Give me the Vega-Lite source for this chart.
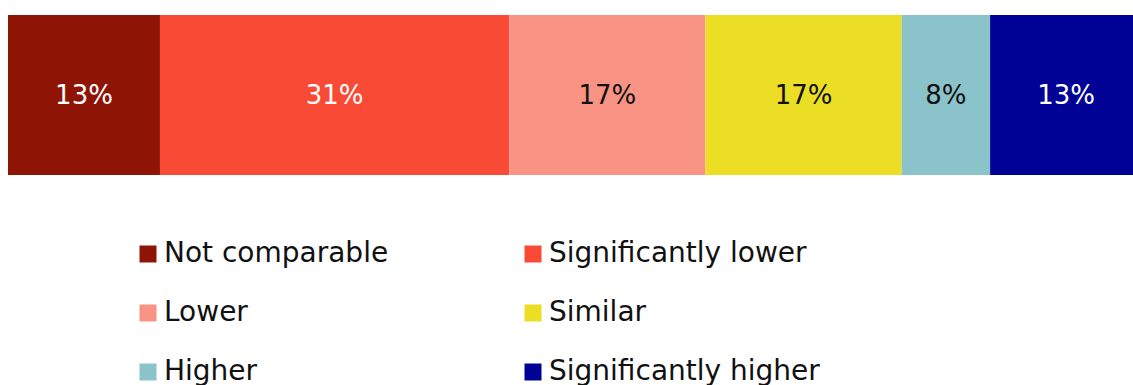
{
  "$schema": "https://vega.github.io/schema/vega-lite/v6.json",
  "width": 1125,
  "height": 160,
  "autosize": {"type": "none"},
  "padding": {"left": 8, "top": 15, "right": 0, "bottom": 210},
  "config": {
    "view": {"stroke": null},
    "font": "DejaVu Sans",
    "legend": {
      "orient": "none",
      "direction": "horizontal",
      "legendX": 126,
      "legendY": 225,
      "columns": 2,
      "columnPadding": 130,
      "rowPadding": 31,
      "symbolType": "square",
      "symbolSize": 289,
      "symbolStrokeWidth": 0,
      "symbolOpacity": 1,
      "labelFontSize": 28,
      "labelColor": "#111111",
      "labelOffset": 2,
      "labelLimit": 400,
      "padding": 0,
      "title": null
    }
  },
  "data": {
    "values": [
      {"category": "Not comparable", "share": 0.134, "rank": 1},
      {"category": "Significantly lower", "share": 0.308, "rank": 2},
      {"category": "Lower", "share": 0.173, "rank": 3},
      {"category": "Similar", "share": 0.173, "rank": 4},
      {"category": "Higher", "share": 0.078, "rank": 5},
      {"category": "Significantly higher", "share": 0.134, "rank": 6}
    ]
  },
  "encoding": {
    "x": {
      "field": "share",
      "type": "quantitative",
      "stack": "zero",
      "axis": null,
      "scale": {"domain": [0, 0.992], "nice": false, "zero": true}
    },
    "order": {"field": "rank", "type": "quantitative"}
  },
  "layer": [
    {
      "mark": {"type": "bar", "height": 160, "clip": true},
      "encoding": {
        "color": {
          "field": "category",
          "type": "nominal",
          "title": null,
          "scale": {
            "domain": ["Not comparable", "Significantly lower", "Lower", "Similar", "Higher", "Significantly higher"],
            "range": ["#8E1506", "#F84A34", "#F99485", "#ECDD25", "#8BC3CB", "#000296"]
          }
        }
      }
    },
    {
      "mark": {"type": "text", "fontSize": 26, "baseline": "middle", "align": "center", "dy": 1},
      "encoding": {
        "x": {"field": "share", "type": "quantitative", "stack": "zero", "bandPosition": 0.5},
        "text": {"field": "share", "type": "quantitative", "format": ".0%"},
        "color": {
          "condition": {"test": "indexof(['Lower', 'Similar', 'Higher'], datum.category) >= 0", "value": "#111111"},
          "value": "#ffffff"
        }
      }
    }
  ]
}
